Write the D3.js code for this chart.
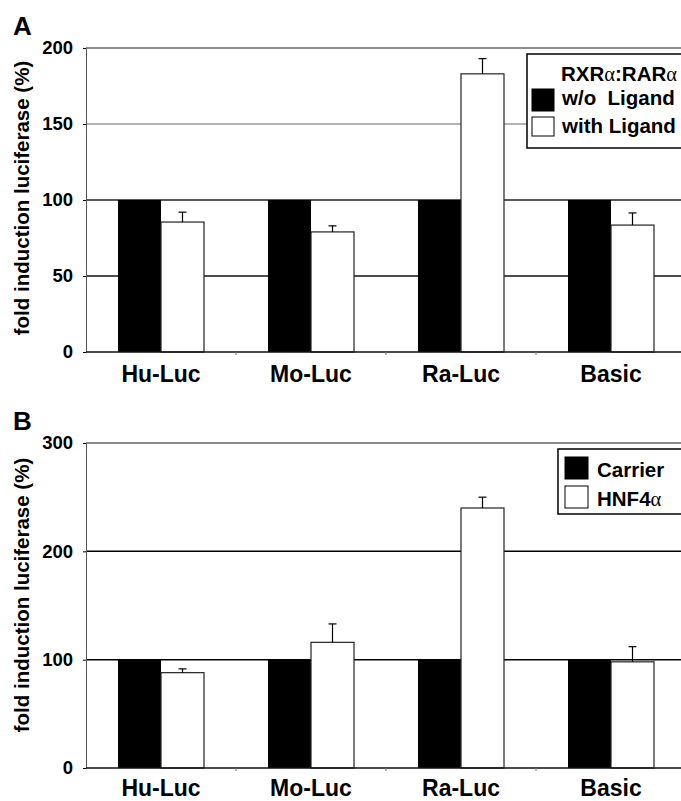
<!DOCTYPE html>
<html>
<head>
<meta charset="utf-8">
<script src="https://cdn.jsdelivr.net/npm/d3@7"></script>
<style>
body{margin:0;background:#fff;}
svg{display:block;font-family:"Liberation Sans",Arial,sans-serif;font-weight:bold;}
</style>
</head>
<body>
<div id="chart"></div>
<script>
(function(){

const width = 681;
const height = 801;

// data
const categories = ["Hu-Luc","Mo-Luc","Ra-Luc","Basic"];

const aNoLigand = [100,100,100,100];
const aLigand = [85.5,79,183,83.5];
const aLigandErr = [6.5,4,10,8];
const aTicks = [0,50,100,150,200];

const bCarrier = [100,100,100,100];
const bHnf4 = [88,116,240,98];
const bHnf4Err = [3.5,17,10,14];
const bTicks = [0,100,200,300];

const svg = d3.select("#chart")
.append("svg")
.attr("width",width)
.attr("height",height)
.style("overflow","hidden");

function panel(cfg){
const g = svg.append("g");

const x = d3.scaleBand()
.domain(categories)
.range([86,686]);

const y = d3.scaleLinear()
.domain([0,cfg.max])
.range([cfg.bottom,cfg.top]);

const bw = 43;

// grid lines
g.selectAll(".grid")
.data(cfg.ticks.filter(t=>t>0))
.join("line")
.attr("x1",86)
.attr("x2",686)
.attr("y1",d=>y(d))
.attr("y2",d=>y(d))
.attr("stroke",(d,i)=>cfg.gridColors[i])
.attr("stroke-width",1.5);

// black bars
g.selectAll(".b0")
.data(categories)
.join("rect")
.attr("x",d=>x(d)+x.bandwidth()/2-bw)
.attr("width",bw)
.attr("y",(d,i)=>y(cfg.s0[i]))
.attr("height",(d,i)=>y(0)-y(cfg.s0[i]))
.attr("fill","#000");

// white bars
g.selectAll(".b1")
.data(categories)
.join("rect")
.attr("x",d=>x(d)+x.bandwidth()/2)
.attr("width",bw)
.attr("y",(d,i)=>y(cfg.s1[i]))
.attr("height",(d,i)=>y(0)-y(cfg.s1[i]))
.attr("fill","#fff")
.attr("stroke","#222")
.attr("stroke-width",1.2);

// error bars
const cx = d=>x(d)+x.bandwidth()/2+bw/2;
g.selectAll(".err")
.data(categories)
.join("line")
.attr("x1",cx).attr("x2",cx)
.attr("y1",(d,i)=>y(cfg.s1[i]))
.attr("y2",(d,i)=>y(cfg.s1[i]+cfg.err[i]))
.attr("stroke","#000")
.attr("stroke-width",1.2);

g.selectAll(".cap")
.data(categories)
.join("line")
.attr("x1",d=>cx(d)-4).attr("x2",d=>cx(d)+4)
.attr("y1",(d,i)=>y(cfg.s1[i]+cfg.err[i]))
.attr("y2",(d,i)=>y(cfg.s1[i]+cfg.err[i]))
.attr("stroke","#000")
.attr("stroke-width",1.2);

// axes
const yAxis = g.append("g")
.attr("transform","translate(86,0)")
.call(d3.axisLeft(y).tickValues(cfg.ticks).tickSize(3).tickSizeOuter(0).tickPadding(10));
yAxis.select(".domain").attr("stroke","#555");
yAxis.selectAll("text")
.attr("font-size","18.5px")
.attr("font-family","Liberation Sans, Arial, sans-serif")
.attr("font-weight","bold")
.attr("fill","#000");

g.append("line")
.attr("x1",86).attr("x2",686)
.attr("y1",y(0)).attr("y2",y(0))
.attr("stroke","#111")
.attr("stroke-width",1.5);

g.selectAll(".xt")
.data(categories.slice(1))
.join("line")
.attr("x1",d=>x(d)).attr("x2",d=>x(d))
.attr("y1",y(0)).attr("y2",y(0)+3)
.attr("stroke","#777");

g.selectAll(".xl")
.data(categories)
.join("text")
.attr("x",d=>x(d)+x.bandwidth()/2)
.attr("y",cfg.labelY)
.attr("text-anchor","middle")
.attr("font-size","23px")
.text(d=>d);

// y label
g.append("text")
.attr("transform",`translate(29,${cfg.yLabelMid}) rotate(-90)`)
.attr("text-anchor","middle")
.attr("font-size","20.5px")
.text("fold induction luciferase (%)");

// panel letter
g.append("text")
.attr("x",13)
.attr("y",cfg.letterY)
.attr("font-size","26px")
.text(cfg.letter);

return g;
}

// panel A
const gA = panel({
s0:aNoLigand,s1:aLigand,err:aLigandErr,ticks:aTicks,max:200,
top:48,bottom:352,labelY:382,yLabelMid:198,letter:"A",letterY:35,
gridColors:["#111","#222","#999","#666"]
});

const legA = gA.append("g");
legA.append("rect")
.attr("x",527).attr("y",54).attr("width",170).attr("height",94)
.attr("fill","#fff").attr("stroke","#000").attr("stroke-width",1.5);
const titleA = legA.append("text")
.attr("x",677).attr("y",81)
.attr("text-anchor","end")
.attr("font-size","20.5px");
titleA.append("tspan").text("RXR");
titleA.append("tspan").attr("font-family","Liberation Serif, serif").attr("font-weight","normal").text("α");
titleA.append("tspan").text(":RAR");
titleA.append("tspan").attr("font-family","Liberation Serif, serif").attr("font-weight","normal").text("α");

const legAItems = ["w/o\u00a0 Ligand","with Ligand"];
legA.selectAll(".sw")
.data(legAItems)
.join("rect")
.attr("x",532).attr("y",(d,i)=>89+i*28)
.attr("width",22).attr("height",(d,i)=>i?19:22)
.attr("fill",(d,i)=>i?"#fff":"#000")
.attr("stroke","#000");
legA.selectAll(".lt")
.data(legAItems)
.join("text")
.attr("x",562).attr("y",(d,i)=>105+i*28)
.attr("font-size","20.5px")
.text(d=>d);

// panel B
const gB = panel({
s0:bCarrier,s1:bHnf4,err:bHnf4Err,ticks:bTicks,max:300,
top:443,bottom:768,labelY:796,yLabelMid:595,letter:"B",letterY:430,
gridColors:["#000","#000","#666"]
});

const legB = gB.append("g");
legB.append("rect")
.attr("x",558).attr("y",449).attr("width",140).attr("height",65)
.attr("fill","#fff").attr("stroke","#000").attr("stroke-width",1.5);
const legBItems = ["Carrier","HNF4"];
legB.selectAll(".sw")
.data(legBItems)
.join("rect")
.attr("x",565).attr("y",(d,i)=>457+i*29)
.attr("width",23).attr("height",22)
.attr("fill",(d,i)=>i?"#fff":"#000")
.attr("stroke","#000");
legB.selectAll(".lt")
.data(legBItems)
.join("text")
.attr("x",597).attr("y",(d,i)=>477+i*29)
.attr("font-size","20.5px")
.text(d=>d)
.filter((d,i)=>i===1)
.append("tspan")
.attr("font-family","Liberation Serif, serif")
.attr("font-weight","normal")
.text("α");

})();
</script>
</body>
</html>
